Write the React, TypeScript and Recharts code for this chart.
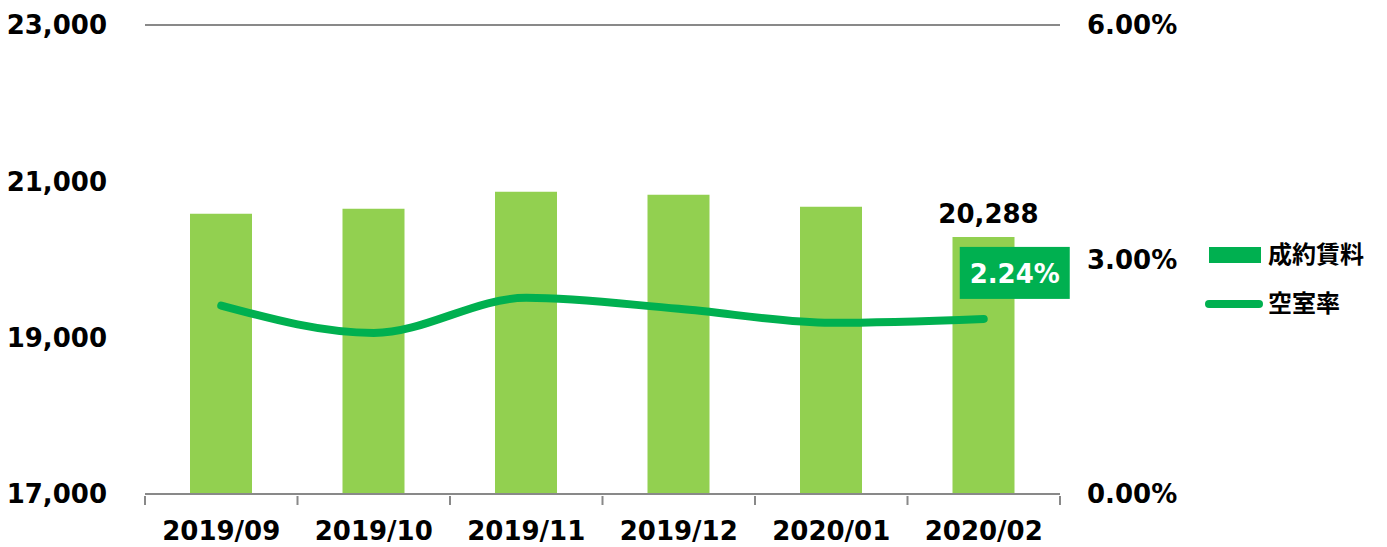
import * as React from 'react';
import { ComposedChart, Bar, Line, XAxis, YAxis, CartesianGrid, Legend, LabelList } from 'recharts';

const months = ['2019/09', '2019/10', '2019/11', '2019/12', '2020/01', '2020/02'];
const rent = [20584, 20648, 20866, 20827, 20674, 20288];
const vacancy = [2.41, 2.06, 2.51, 2.37, 2.19, 2.24];
const rentTicks = [17000, 19000, 21000, 23000];
const rateTicks = [0, 3, 6];

const data = months.map((m, i) => ({ month: m, rent: rent[i], vacancy: vacancy[i] }));

const FONT = "'DejaVu Sans', 'Noto Sans CJK JP', sans-serif";
const BAR = '#92D050';
const LINE = '#00B050';
const GRID = '#898989';

const W = 1387;
const H = 547;
const PLOT_LEFT = 145;
const PLOT_RIGHT = 1060;
const STEP = (PLOT_RIGHT - PLOT_LEFT) / months.length;

function MonthTick(props: any) {
  const { x, y, payload, index } = props;
  return (
    <g>
      <line x1={x - STEP / 2} x2={x - STEP / 2} y1={y} y2={y + 9} stroke={GRID} strokeWidth={2} />
      {index === months.length - 1 && (
        <line x1={x + STEP / 2} x2={x + STEP / 2} y1={y} y2={y + 9} stroke={GRID} strokeWidth={2} />
      )}
      <text x={x} y={y + 44} textAnchor="middle" fontFamily={FONT} fontWeight="bold" fontSize={26} fill="#000">
        {payload.value}
      </text>
    </g>
  );
}

function RentLabel(props: any) {
  const { x, y, width, value, index } = props;
  if (index !== rent.length - 1) return null;
  return (
    <text x={x + width / 2 + 5} y={y - 14} textAnchor="middle" fontFamily={FONT} fontWeight="bold" fontSize={26} fill="#000">
      {Number(value).toLocaleString('en-US')}
    </text>
  );
}

function RateLabel(props: any) {
  const { x, y, value, index } = props;
  if (index !== vacancy.length - 1) return null;
  const cx = x + 31;
  const cy = y - 46;
  return (
    <g>
      <rect x={cx - 55} y={cy - 26} width={110} height={52} fill={LINE} />
      <text x={cx} y={cy + 10} textAnchor="middle" fontFamily={FONT} fontWeight="bold" fontSize={26} fill="#fff">
        {Number(value).toFixed(2)}%
      </text>
    </g>
  );
}

function LegendBox() {
  const txt: React.CSSProperties = { fontFamily: FONT, fontWeight: 'bold', fontSize: 24, color: '#000', lineHeight: '30px' };
  return (
    <div>
      <div style={{ display: 'flex', alignItems: 'center', height: 30 }}>
        <div style={{ width: 52, height: 16, background: LINE, marginLeft: 4, marginRight: 7 }} />
        <span style={txt}>成約賃料</span>
      </div>
      <div style={{ display: 'flex', alignItems: 'center', height: 30, marginTop: 19 }}>
        <div style={{ width: 58, height: 8, borderRadius: 4, background: LINE, marginRight: 5 }} />
        <span style={txt}>空室率</span>
      </div>
    </div>
  );
}

export default function App() {
  return (
    <div style={{ position: 'absolute', left: 0, top: 0, width: W, height: H, background: '#fff' }}>
      <ComposedChart width={W} height={H} data={data} margin={{ top: 25, right: 0, bottom: 0, left: 0 }}>
        <CartesianGrid vertical={false} stroke={GRID} strokeWidth={2} />
        <XAxis
          dataKey="month"
          height={53}
          axisLine={{ stroke: GRID, strokeWidth: 2 }}
          tickLine={false}
          tickSize={0}
          tick={<MonthTick />}
          interval={0}
        />
        <YAxis
          yAxisId="left"
          width={PLOT_LEFT}
          domain={[17000, 23000]}
          ticks={rentTicks}
          axisLine={false}
          tickLine={false}
          tickSize={0}
          tickMargin={38}
          tickFormatter={(v: number) => v.toLocaleString('en-US')}
          tick={{ fontFamily: FONT, fontWeight: 'bold', fontSize: 26, fill: '#000' }}
        />
        <YAxis
          yAxisId="right"
          orientation="right"
          width={W - PLOT_RIGHT}
          domain={[0, 6]}
          ticks={rateTicks}
          axisLine={false}
          tickLine={false}
          tickSize={0}
          tickMargin={27}
          tickFormatter={(v: number) => `${v.toFixed(2)}%`}
          tick={{ fontFamily: FONT, fontWeight: 'bold', fontSize: 26, fill: '#000', textAnchor: 'start' }}
        />
        <Legend
          layout="vertical"
          align="center"
          verticalAlign="middle"
          content={<LegendBox />}
          wrapperStyle={{ position: 'absolute', left: 1205, top: 240, width: 180 }}
        />
        <Bar yAxisId="left" dataKey="rent" name="成約賃料" fill={BAR} barSize={62} isAnimationActive={false}>
          <LabelList dataKey="rent" content={<RentLabel />} />
        </Bar>
        <Line
          yAxisId="right"
          type="monotone"
          dataKey="vacancy"
          name="空室率"
          stroke={LINE}
          strokeWidth={8}
          strokeLinecap="round"
          dot={false}
          activeDot={false}
          isAnimationActive={false}
        >
          <LabelList dataKey="vacancy" content={<RateLabel />} />
        </Line>
      </ComposedChart>
    </div>
  );
}
